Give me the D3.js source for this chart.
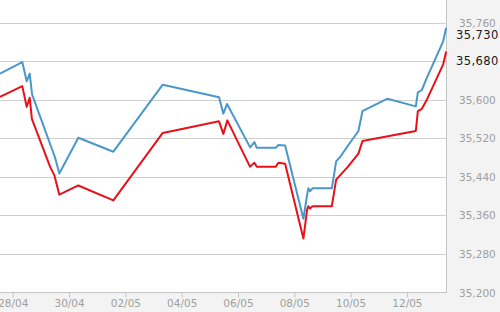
<!DOCTYPE html>
<html>
<head>
<meta charset="utf-8">
<script src="https://cdn.jsdelivr.net/npm/d3@7"></script>
<style>
  body { margin: 0; background: #f3f3f3; }
  svg { display: block; font-family: "DejaVu Sans", Verdana, sans-serif; }
</style>
</head>
<body>
<svg id="chart"></svg>
<script>
(function (d3) {
  'use strict';
  const width = 500;
  const height = 312;

  // blue series
  const blueTimes = ["04-27 12:40","04-28 07:40","04-28 11:25","04-28 14:00","04-28 16:00","04-29 11:35","04-29 15:15",
    "04-30 07:25","05-01 13:20","05-03 07:25","05-05 07:25","05-05 11:05","05-05 14:15","05-06 09:55","05-06 13:35",
    "05-06 15:35","05-07 07:50","05-07 10:00","05-07 15:45","05-08 07:20","05-08 10:20","05-08 11:35","05-08 13:00",
    "05-08 15:00","05-09 07:35","05-09 11:15","05-09 14:40","05-09 22:00","05-10 06:15","05-10 09:40","05-11 07:00",
    "05-12 07:10","05-12 08:55","05-12 12:20","05-12 16:00","05-13 06:30","05-13 09:00"];
  const blueValues = [35654,35678,35638,35654,35611,35480,35447,
    35521,35492,35631,35605,35571,35591,35501,35512,
    35500,35500,35506,35505,35353,35400,35416,35410,
    35416,35416,35472,35481,35507,35535,35576,35602,
    35586,35615,35620,35642,35721,35749];

  // red series
  const redTimes = ["04-27 12:40","04-28 07:40","04-28 11:25","04-28 14:00","04-28 15:50","04-29 07:20","04-29 11:00",
    "04-29 15:15","04-30 07:25","05-01 13:20","05-03 07:25","05-05 07:25","05-05 11:05","05-05 14:30","05-06 09:45",
    "05-06 13:35","05-06 15:35","05-07 07:50","05-07 10:00","05-07 15:45","05-08 07:20","05-08 10:30","05-08 11:35",
    "05-08 13:00","05-08 15:00","05-09 07:35","05-09 11:15","05-09 21:00","05-10 06:15","05-10 09:40","05-12 07:10",
    "05-12 08:55","05-12 12:20","05-12 16:00","05-13 06:30","05-13 09:00"];
  const redValues = [35606,35628,35585,35604,35560,35461,35443,
    35403,35422,35391,35531,35555,35529,35557,35461,
    35469,35461,35461,35469,35467,35312,35372,35379,
    35374,35379,35379,35434,35460,35488,35514,35535,
    35576,35581,35597,35673,35700];

  const yTicks = [35200,35280,35360,35440,35520,35600,35680,35760];
  const xTicks = ["04-28","04-30","05-02","05-04","05-06","05-08","05-10","05-12"];
  const lastLabels = [
    { value: 35730, text: "35,730" },
    { value: 35680, text: "35,680" }
  ];

  const parseTime = d3.timeParse('%Y-%m-%d %H:%M');
  const parseDay = d3.timeParse('%Y-%m-%d');
  const toDate = s => parseTime('2013-' + s);

  const plotRight = 446.5;
  const plotBottom = 292.5;

  const x = d3.scaleTime()
    .domain([toDate("04-27 12:40"), toDate("05-13 09:20")])
    .range([0, plotRight]);
  const y = d3.scaleLinear()
    .domain([35200, 35760])
    .range([plotBottom, 22.5]);

  const svg = d3.select('#chart').attr('width', width).attr('height', height);

  svg.append('rect')
    .attr('x', 0).attr('y', 0).attr('width', width).attr('height', height)
    .attr('fill', '#f3f3f3');

  svg.append('rect')
    .attr('x', -2).attr('y', -2)
    .attr('width', plotRight + 2).attr('height', plotBottom + 2)
    .attr('fill', '#fff')
    .attr('stroke', '#c4c4c4')
    .attr('stroke-width', 1);

  // gridlines
  svg.append('g').selectAll('line').data(yTicks.slice(1))
    .enter().append('line')
      .attr('x1', 0).attr('x2', plotRight)
      .attr('y1', d => Math.round(y(d)) + 0.5)
      .attr('y2', d => Math.round(y(d)) + 0.5)
      .attr('stroke', '#cfcfcf')
      .attr('stroke-width', 1);

  // y labels, skip those covered by the last value labels
  svg.append('g').selectAll('text')
    .data(yTicks.filter(t => !lastLabels.some(l => l.value === t)))
    .enter().append('text')
      .attr('x', 459)
      .attr('y', d => y(d) + 4)
      .attr('font-size', 10.5)
      .attr('fill', '#a0a0a0')
      .text(d => d3.format(',')(d));

  svg.append('g').selectAll('text').data(lastLabels)
    .enter().append('text')
      .attr('x', 456)
      .attr('y', (d, i) => y(d.value) + (i === 0 ? 2 : 4))
      .attr('font-size', 11.5)
      .attr('fill', '#1a1a1a')
      .attr('letter-spacing', 0.4)
      .text(d => d.text);

  // x ticks and labels
  const xg = svg.append('g');
  xg.selectAll('line').data(xTicks)
    .enter().append('line')
      .attr('x1', d => x(parseDay('2013-' + d)))
      .attr('x2', d => x(parseDay('2013-' + d)))
      .attr('y1', plotBottom).attr('y2', plotBottom + 5)
      .attr('stroke', '#c4c4c4');
  xg.selectAll('text').data(xTicks)
    .enter().append('text')
      .attr('x', d => x(parseDay('2013-' + d)))
      .attr('y', 307)
      .attr('text-anchor', 'middle')
      .attr('font-size', 10.5)
      .attr('fill', '#a0a0a0')
      .text(d => d.slice(3) + '/' + d.slice(0, 2));

  const line = d3.line()
    .x(d => x(d.t))
    .y(d => y(d.v));

  const blue = blueTimes.map((t, i) => ({ t: toDate(t), v: blueValues[i] }));
  const red = redTimes.map((t, i) => ({ t: toDate(t), v: redValues[i] }));

  svg.append('path')
    .datum(blue)
    .attr('d', line)
    .attr('fill', 'none')
    .attr('stroke', '#4a97c9')
    .attr('stroke-width', 2)
    .attr('stroke-linejoin', 'round');

  svg.append('path')
    .datum(red)
    .attr('d', line)
    .attr('fill', 'none')
    .attr('stroke', '#e8111a')
    .attr('stroke-width', 2)
    .attr('stroke-linejoin', 'round');
}(d3));
</script>
</body>
</html>
